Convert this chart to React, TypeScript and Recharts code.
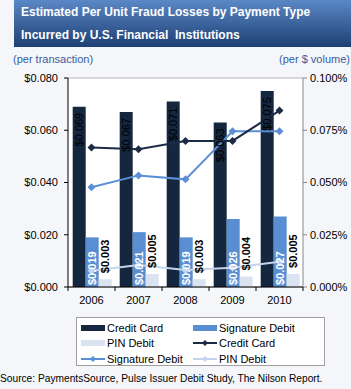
import React from "react";
import {
  Bar,
  CartesianGrid,
  ComposedChart,
  LabelList,
  Line,
  XAxis,
  YAxis,
} from "recharts";

const years = ["2006", "2007", "2008", "2009", "2010"];
// per transaction ($)
const creditCard = [0.069, 0.067, 0.071, 0.063, 0.075];
const signatureDebit = [0.019, 0.021, 0.019, 0.026, 0.027];
const pinDebit = [0.003, 0.005, 0.003, 0.004, 0.005];
// per $ volume (%)
const creditCardPct = [0.0668, 0.0659, 0.0699, 0.0699, 0.0844];
const signatureDebitPct = [0.0477, 0.0534, 0.0515, 0.0745, 0.0745];
const pinDebitPct = [0.0078, 0.0105, 0.0081, 0.0092, 0.0121];

const leftTicks = [0, 0.02, 0.04, 0.06, 0.08];
const rightTicks = [0, 0.025, 0.05, 0.075, 0.1];

const data = years.map((year, i) => ({
  year,
  cc: creditCard[i],
  sig: signatureDebit[i],
  pin: pinDebit[i],
  ccPct: creditCardPct[i],
  sigPct: signatureDebitPct[i],
  pinPct: pinDebitPct[i],
}));

const NAVY = "#14273f";
const BLUE = "#5a8ed2";
const PALE = "#dae4f1";
const NAVY_LINE = "#1c2c46";
const BLUE_LINE = "#5b8fd6";
const PALE_LINE = "#c3d4ec";
const FONT = "'Liberation Sans', Arial, sans-serif";

const money = (v: number) => `$${v.toFixed(3)}`;

const diamond = (color: string) => (props: any) => {
  const { cx, cy, index } = props;
  if (cx == null || cy == null) return <g key={index} />;
  return (
    <path
      key={index}
      d={`M${cx} ${cy - 4} L${cx + 4} ${cy} L${cx} ${cy + 4} L${cx - 4} ${cy} Z`}
      fill={color}
    />
  );
};

// vertical value labels
const ccLabel = (props: any) => {
  const { x, y, width, value } = props;
  const cx = x + width / 2;
  const cy = y + 6;
  return (
    <text x={cx} y={cy} dy="0.35em" textAnchor="end" fontSize={11} fill="#000"
      fontFamily={FONT} transform={`rotate(-90 ${cx} ${cy})`}>
      {money(value)}
    </text>
  );
};

const sigLabel = (props: any) => {
  const { x, y, width, height, value } = props;
  const cx = x + width / 2;
  const cy = y + height - 2;
  return (
    <text x={cx} y={cy} dy="0.35em" textAnchor="start" fontSize={11} fontWeight="bold"
      fill="#fff" fontFamily={FONT} transform={`rotate(-90 ${cx} ${cy})`}>
      {money(value)}
    </text>
  );
};

const pinLabel = (props: any) => {
  const { x, y, width, value } = props;
  const cx = x + width / 2;
  const cy = y - 6;
  return (
    <text x={cx} y={cy} dy="0.35em" textAnchor="start" fontSize={11} fontWeight="bold"
      fill="#000" fontFamily={FONT} transform={`rotate(-90 ${cx} ${cy})`}>
      {money(value)}
    </text>
  );
};

const BAND = 47;
const yearTick = (props: any) => {
  const { x, y, payload, index } = props;
  return (
    <g>
      <line x1={x - BAND / 2} x2={x - BAND / 2} y1={y - 8} y2={y - 4} stroke="#000" />
      {index === years.length - 1 && (
        <line x1={x + BAND / 2} x2={x + BAND / 2} y1={y - 8} y2={y - 4} stroke="#000" />
      )}
      <text x={x} y={y + 9} textAnchor="middle" fontSize={11} fill="#000" fontFamily={FONT}>
        {payload.value}
      </text>
    </g>
  );
};

const legendItems = [
  { name: "Credit Card", color: NAVY, kind: "bar" },
  { name: "Signature Debit", color: BLUE, kind: "bar" },
  { name: "PIN Debit", color: PALE, kind: "bar" },
  { name: "Credit Card", color: NAVY_LINE, kind: "line" },
  { name: "Signature Debit", color: BLUE_LINE, kind: "line" },
  { name: "PIN Debit", color: PALE_LINE, kind: "line" },
];

function Swatch({ color, kind }: { color: string; kind: string }) {
  return (
    <svg width={24} height={10} style={{ marginRight: 2 }}>
      {kind === "bar" ? (
        <rect x={0} y={2} width={24} height={6} fill={color} />
      ) : (
        <g>
          <line x1={0} x2={24} y1={5} y2={5} stroke={color} strokeWidth={2} />
          <path d="M12 2 L15 5 L12 8 L9 5 Z" fill={color} />
        </g>
      )}
    </svg>
  );
}

export default function App() {
  return (
    <div
      style={{
        position: "absolute",
        left: 0,
        top: 0,
        width: 351,
        height: 389,
        background: "#f4f6f9",
        fontFamily: FONT,
        overflow: "hidden",
      }}
    >
      <div
        style={{
          position: "absolute",
          left: 14,
          top: 0,
          width: 337,
          height: 47,
          background: "linear-gradient(#5a88c6, #1e3f74)",
          color: "#fff",
          fontWeight: "bold",
          fontSize: 12,
        }}
      >
        <div style={{ position: "absolute", left: 7, top: 5 }}>
          Estimated Per Unit Fraud Losses by Payment Type
        </div>
        <div style={{ position: "absolute", left: 7, top: 28 }}>
          Incurred by U.S. Financial&nbsp; Institutions
        </div>
      </div>
      <div style={{ position: "absolute", left: 13, top: 53, fontSize: 11, color: "#3a5c9c" }}>
        (per transaction)
      </div>
      <div style={{ position: "absolute", right: 1, top: 53, fontSize: 11, color: "#3a5c9c", whiteSpace: "nowrap" }}>
        (per $ volume)
      </div>

      <div style={{ position: "absolute", left: 0, top: 0 }}>
        <ComposedChart
          width={351}
          height={310}
          data={data}
          margin={{ top: 78, right: 0, bottom: 0, left: 0 }}
          barCategoryGap="10%"
          barGap={0}
        >
          <CartesianGrid horizontal vertical={false} stroke="#b5b5b5" fill="#fff" />
          <XAxis
            dataKey="year"
            height={23}
            stroke="#000"
            tickLine={false}
            tick={yearTick}
            interval={0}
          />
          <YAxis
            yAxisId="left"
            width={68}
            domain={[0, 0.08]}
            ticks={leftTicks}
            tickFormatter={money}
            stroke="#000"
            tickSize={4}
            tickMargin={6}
            tick={{ fontSize: 11, fill: "#000", fontFamily: FONT }}
          />
          <YAxis
            yAxisId="right"
            orientation="right"
            width={48}
            domain={[0, 0.1]}
            ticks={rightTicks}
            tickFormatter={(v: number) => `${v.toFixed(3)}%`}
            stroke="#888"
            tickSize={4}
            tickMargin={3}
            tick={{ fontSize: 11, fill: "#000", fontFamily: FONT, textAnchor: "start" }}
          />
          <Bar yAxisId="left" dataKey="cc" name="Credit Card" fill={NAVY} isAnimationActive={false}>
            <LabelList dataKey="cc" content={ccLabel} />
          </Bar>
          <Bar yAxisId="left" dataKey="sig" name="Signature Debit" fill={BLUE} isAnimationActive={false}>
            <LabelList dataKey="sig" content={sigLabel} />
          </Bar>
          <Bar yAxisId="left" dataKey="pin" name="PIN Debit" fill={PALE} isAnimationActive={false}>
            <LabelList dataKey="pin" content={pinLabel} />
          </Bar>
          <Line yAxisId="right" dataKey="pinPct" name="PIN Debit" stroke={PALE_LINE} strokeWidth={2}
            dot={diamond(PALE_LINE)} activeDot={false} isAnimationActive={false} />
          <Line yAxisId="right" dataKey="sigPct" name="Signature Debit" stroke={BLUE_LINE} strokeWidth={2}
            dot={diamond(BLUE_LINE)} activeDot={false} isAnimationActive={false} />
          <Line yAxisId="right" dataKey="ccPct" name="Credit Card" stroke={NAVY_LINE} strokeWidth={2}
            dot={diamond(NAVY_LINE)} activeDot={false} isAnimationActive={false} />
        </ComposedChart>
      </div>

      <div
        style={{
          position: "absolute",
          left: 76,
          top: 317,
          width: 249,
          height: 49,
          background: "#fff",
          border: "1px solid #a0a0a0",
          boxSizing: "border-box",
          display: "grid",
          gridTemplateColumns: "112px 130px",
          gridAutoRows: "15.5px",
          padding: "2px 0 0 4px",
          fontSize: 11,
        }}
      >
        {legendItems.map((it, i) => (
          <div key={i} style={{ display: "flex", alignItems: "center", whiteSpace: "nowrap" }}>
            <Swatch color={it.color} kind={it.kind} />
            <span>{it.name}</span>
          </div>
        ))}
      </div>

      <div style={{ position: "absolute", left: 0, top: 373, fontSize: 10.2, color: "#000", whiteSpace: "nowrap" }}>
        Source: PaymentsSource, Pulse Issuer Debit Study, The Nilson Report.
      </div>
    </div>
  );
}
